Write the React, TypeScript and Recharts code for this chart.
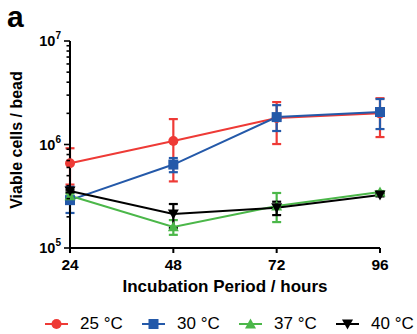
// Viable cells per bead over incubation time at four temperatures, log y axis
// with SD-style error bars. Legend is drawn as plain HTML under the chart.

import {
  LineChart,
  Line,
  XAxis,
  YAxis,
  ErrorBar,
} from "recharts";

const HOURS = [24, 48, 72, 96];

const MEAN_25 = [6.6e5, 1.08e6, 1.8e6, 2.0e6];
const LOW_25 = [4.1e5, 4.4e5, 1.01e6, 1.18e6];
const HIGH_25 = [9.2e5, 1.76e6, 2.57e6, 2.8e6];

const MEAN_30 = [2.9e5, 6.4e5, 1.84e6, 2.06e6];
const LOW_30 = [2.18e5, 5.4e5, 1.35e6, 1.41e6];
const HIGH_30 = [3.9e5, 7.4e5, 2.4e6, 2.75e6];

const MEAN_37 = [3.2e5, 1.6e5, 2.55e5, 3.47e5];
const LOW_37 = [3.05e5, 1.34e5, 1.78e5, 3.4e5];
const HIGH_37 = [3.35e5, 1.86e5, 3.4e5, 3.55e5];

const MEAN_40 = [3.55e5, 2.13e5, 2.45e5, 3.25e5];
const LOW_40 = [3.45e5, 1.56e5, 2.08e5, 3.15e5];
const HIGH_40 = [3.65e5, 2.66e5, 2.8e5, 3.35e5];

const DECADES = [1e5, 1e6, 1e7];
const MINOR = [2, 3, 4, 5, 6, 7, 8, 9];
const Y_TICKS = [
  ...DECADES,
  ...MINOR.map((m) => m * 1e5),
  ...MINOR.map((m) => m * 1e6),
];

const RED = "#ee3a36";
const BLUE = "#2459a9";
const GREEN = "#4bb749";
const BLACK = "#000000";

const SERIES = [
  { key: "t25", label: "25 °C", color: RED, shape: "circle", mean: MEAN_25, low: LOW_25, high: HIGH_25 },
  { key: "t30", label: "30 °C", color: BLUE, shape: "square", mean: MEAN_30, low: LOW_30, high: HIGH_30 },
  { key: "t37", label: "37 °C", color: GREEN, shape: "up", mean: MEAN_37, low: LOW_37, high: HIGH_37 },
  { key: "t40", label: "40 °C", color: BLACK, shape: "down", mean: MEAN_40, low: LOW_40, high: HIGH_40 },
];

// error bars are offsets from the mean: [below, above]
const data = HOURS.map((h, i) => {
  const row: Record<string, any> = { hour: h };
  SERIES.forEach((s) => {
    row[s.key] = s.mean[i];
    row[s.key + "Err"] = [s.mean[i] - s.low[i], s.high[i] - s.mean[i]];
  });
  return row;
});

const FONT = "Liberation Sans, Arial, Helvetica, sans-serif";

function Marker({ shape, color, cx, cy }: { shape: string; color: string; cx: number; cy: number }) {
  if (shape === "circle") return <circle cx={cx} cy={cy} r={5} fill={color} />;
  if (shape === "square")
    return <rect x={cx - 5} y={cy - 5} width={10} height={10} fill={color} />;
  if (shape === "up")
    return <polygon points={`${cx},${cy - 5.5} ${cx - 5.5},${cy + 4.5} ${cx + 5.5},${cy + 4.5}`} fill={color} />;
  return <polygon points={`${cx},${cy + 5.5} ${cx - 5.5},${cy - 4.5} ${cx + 5.5},${cy - 4.5}`} fill={color} />;
}

const makeDot = (shape: string, color: string) => (p: any) =>
  <Marker key={p.index} shape={shape} color={color} cx={p.cx} cy={p.cy} />;

// tickSize/tickMargin are 0, so x here is the axis line itself
function YTick(props: any) {
  const { x, y, payload } = props;
  const v = payload.value;
  const major = DECADES.includes(v);
  return (
    <g>
      <line x1={x} x2={x - (major ? 6 : 3.5)} y1={y} y2={y} stroke="#000" strokeWidth={1.6} />
      {major && (
        <text x={x - 9} y={y + 5} textAnchor="end" fontFamily={FONT} fontWeight="bold" fontSize={14.5} fill="#000">
          <tspan>10</tspan>
          <tspan dy={-7} fontSize={10}>{Math.round(Math.log10(v))}</tspan>
        </text>
      )}
    </g>
  );
}

function XTick(props: any) {
  const { x, y, payload } = props;
  return (
    <g>
      <line x1={x} x2={x} y1={y} y2={y + 5} stroke="#000" strokeWidth={2} />
      <text x={x} y={y + 22} textAnchor="middle" fontFamily={FONT} fontWeight="bold" fontSize={15.5} fill="#000">
        {payload.value}
      </text>
    </g>
  );
}

export default function App() {
  return (
    <div style={{ position: "absolute", left: 0, top: 0, width: 417, height: 334, background: "#fff", fontFamily: FONT }}>
      <LineChart
        width={417}
        height={334}
        data={data}
        margin={{ top: 41, right: 37, left: 40, bottom: 56 }}
      >
        <XAxis
          dataKey="hour"
          type="number"
          domain={[24, 96]}
          ticks={HOURS}
          tick={<XTick />}
          tickSize={0}
          tickMargin={0}
          tickLine={false}
          axisLine={{ stroke: "#000", strokeWidth: 2 }}
          height={30}
        />
        <YAxis
          scale="log"
          domain={[1e5, 1e7]}
          allowDataOverflow
          ticks={Y_TICKS}
          interval={0}
          tick={<YTick />}
          tickSize={0}
          tickMargin={0}
          tickLine={false}
          axisLine={{ stroke: "#000", strokeWidth: 2 }}
          width={30}
        />
        {SERIES.map((s) => (
          <Line
            key={s.key}
            dataKey={s.key}
            stroke={s.color}
            strokeWidth={2}
            dot={makeDot(s.shape, s.color)}
            activeDot={false}
            isAnimationActive={false}
          >
            <ErrorBar dataKey={s.key + "Err"} direction="y" width={4.5} stroke={s.color} strokeWidth={2.2} />
          </Line>
        ))}
      </LineChart>

      <div style={{ position: "absolute", left: 7, top: 2, fontSize: 30, lineHeight: "30px", fontWeight: "bold" }}>a</div>

      <div
        style={{
          position: "absolute",
          left: 17,
          top: 140,
          transform: "translate(-50%, -50%) rotate(-90deg)",
          whiteSpace: "nowrap",
          fontSize: 16,
          fontWeight: "bold",
        }}
      >
        Viable cells / bead
      </div>

      <div
        style={{
          position: "absolute",
          left: 225,
          top: 287,
          transform: "translate(-50%, -50%)",
          whiteSpace: "nowrap",
          fontSize: 17,
          fontWeight: "bold",
        }}
      >
        Incubation Period / hours
      </div>

      {SERIES.map((s, i) => (
        <div
          key={s.key}
          style={{ position: "absolute", left: 44 + i * 97, top: 315, display: "flex", alignItems: "center" }}
        >
          <svg width={25} height={18}>
            <line x1={1} x2={24} y1={9} y2={9} stroke={s.color} strokeWidth={2} />
            <Marker shape={s.shape} color={s.color} cx={12.5} cy={9} />
          </svg>
          <span style={{ marginLeft: 11, fontSize: 17, lineHeight: "18px", whiteSpace: "nowrap" }}>{s.label}</span>
        </div>
      ))}
    </div>
  );
}
